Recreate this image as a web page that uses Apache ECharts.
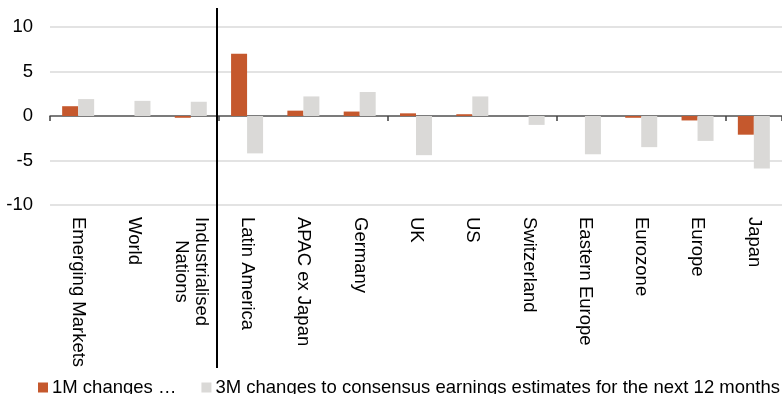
<!DOCTYPE html>
<html>
<head>
<meta charset="utf-8">
<script src="https://cdn.jsdelivr.net/npm/echarts@6/dist/echarts.min.js"></script>
<style>
  html, body { margin: 0; padding: 0; background: #fff; }
  #main { width: 782px; height: 394px; }
</style>
</head>
<body>
<div id="main"></div>
<script>
// categories and values
var categories = ['Emerging Markets', 'World', 'Industrialised\nNations', 'Latin America', 'APAC ex Japan', 'Germany', 'UK', 'US', 'Switzerland', 'Eastern Europe', 'Eurozone', 'Europe', 'Japan'];
var changes1M = [1.1, 0.0, -0.2, 7.0, 0.6, 0.5, 0.3, 0.2, 0.0, 0.0, -0.2, -0.5, -2.1];
var changes3M = [1.9, 1.7, 1.6, -4.2, 2.2, 2.7, -4.4, 2.2, -1.0, -4.3, -3.5, -2.8, -5.9];
var seriesNames = ['1M changes \u2026', '3M changes to consensus earnings estimates for the next 12 months'];
var yTicks = { min: -10, max: 10, interval: 5 };

var myChart = echarts.init(document.getElementById('main'));
var font = '"Liberation Sans", Arial, sans-serif';
var fs = 18.5;

var option = {
    animation: false,
    textStyle: { fontFamily: font },
    grid: { left: 50, top: 27, width: 740, height: 178, containLabel: false },
    legend: {
        left: 33,
        top: 373,
        width: 800,
        orient: 'horizontal',
        itemWidth: 10,
        itemHeight: 10,
        itemGap: 25,
        icon: 'rect',
        textStyle: { fontSize: fs, color: '#000', fontFamily: font, padding: [0, 0, 0, -1] },
        data: seriesNames
    },
    xAxis: [
        {   // zero line with ticks
            type: 'category',
            data: categories,
            position: 'bottom',
            axisLine: { onZero: true, lineStyle: { color: '#595959', width: 1.5 } },
            axisTick: { show: true, length: 5, lineStyle: { color: '#404040', width: 1.5 } },
            axisLabel: { show: false },
            splitLine: { show: false }
        },
        {   // labels at the bottom
            type: 'category',
            data: categories,
            position: 'bottom',
            axisLine: { show: false, onZero: false },
            axisTick: { show: false },
            axisLabel: {
                rotate: -90,
                margin: 12,
                interval: 0,
                color: '#000',
                fontSize: fs,
                fontFamily: font,
                formatter: function (v) {
                    return v.split('\n').map(function (s) { return '{c|' + s + '}'; }).join('\n');
                },
                rich: { c: { align: 'center', fontSize: fs, color: '#000', fontFamily: font, lineHeight: 20 } }
            }
        }
    ],
    yAxis: {
        type: 'value',
        min: yTicks.min,
        max: yTicks.max,
        interval: yTicks.interval,
        axisLine: { show: false },
        axisTick: { show: false },
        axisLabel: { color: '#000', fontSize: fs, margin: 17, fontFamily: font },
        splitLine: { lineStyle: { color: '#dadada', width: 1.5 } }
    },
    series: [
        {
            name: seriesNames[0],
            type: 'bar',
            xAxisIndex: 0,
            data: changes1M,
            barWidth: 16,
            barGap: '0%',
            itemStyle: { color: '#c5582d' }
        },
        {
            name: seriesNames[1],
            type: 'bar',
            xAxisIndex: 0,
            data: changes3M,
            barWidth: 16,
            barGap: '0%',
            itemStyle: { color: '#dad9d7' }
        }
    ]
};
myChart.setOption(option);

// separator line between Industrialised Nations and Latin America
var p2 = myChart.convertToPixel({ xAxisIndex: 0 }, categories[2]);
var p3 = myChart.convertToPixel({ xAxisIndex: 0 }, categories[3]);
var sepX = Math.round((p2 + p3) / 2) - 2;
myChart.setOption({
    graphic: [{
        type: 'line',
        shape: { x1: sepX, y1: 8, x2: sepX, y2: 368 },
        style: { stroke: '#000', lineWidth: 2 },
        z: 100
    }]
});
</script>
</body>
</html>
